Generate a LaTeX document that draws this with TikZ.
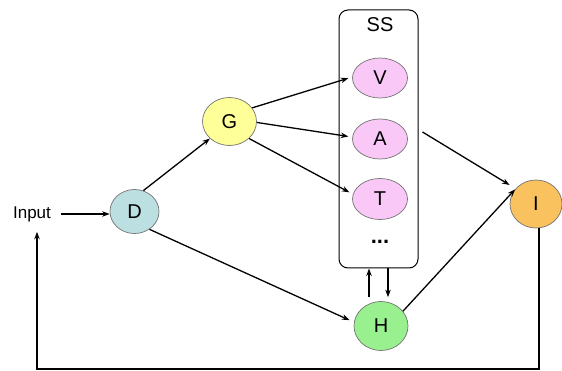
\documentclass[tikz,border=0pt]{standalone}
\usepackage{fontspec}
\setmainfont{Liberation Sans}
\usetikzlibrary{arrows.meta,shapes.geometric}
\definecolor{dblue}{HTML}{BCDFE2}
\definecolor{gyellow}{HTML}{FFFF99}
\definecolor{spink}{HTML}{F9C8F7}
\definecolor{hgreen}{HTML}{99F08F}
\definecolor{iorange}{HTML}{FAC25E}
\begin{document}
\begin{tikzpicture}[x=1pt,y=-1pt,
  blob/.style={ellipse, draw=black!55, line width=0.7pt, inner sep=0pt,
    font=\fontsize{20}{22}\selectfont},
  arr/.style={-{Stealth[length=7.5pt,width=5.5pt]}, line width=1.3pt},
  lbl/.style={font=\fontsize{20}{22}\selectfont, inner sep=0pt}]
\useasboundingbox (0,0) rectangle (562,371);

% container for the sub-systems
\node[draw, line width=1pt, rounded corners=9pt, minimum width=79pt,
  minimum height=258pt, inner sep=0pt] (ss) at (378.5,139) {};
\node[lbl] (sslabel) at (380,25) {SS};
\node[blob, fill=spink, minimum width=55pt, minimum height=40pt] (v) at (380,78) {V};
\node[blob, fill=spink, minimum width=55pt, minimum height=40pt] (a) at (380,139) {A};
\node[blob, fill=spink, minimum width=55pt, minimum height=41pt] (t) at (380,199) {T};
\node[font=\fontsize{22}{24}\selectfont\bfseries, inner sep=0pt] (dots) at (380,242) {...};

% main nodes
\node[font=\fontsize{17}{19}\selectfont, inner sep=0pt] (input) at (32,214) {Input};
\node[blob, fill=dblue, minimum width=49pt, minimum height=44pt] (d) at (134.5,211.5) {D};
\node[blob, fill=gyellow, minimum width=54pt, minimum height=48pt] (g) at (229.5,121.5) {G};
\node[blob, fill=hgreen, minimum width=54pt, minimum height=49pt] (h) at (381,326) {H};
\node[blob, fill=iorange, minimum width=52pt, minimum height=48pt] (i) at (536,204) {I};

\coordinate (aout) at (422.5,132);
\coordinate (fb) at (37,369);

% connectors
\draw[arr] ([xshift=10pt]input.east) -- (input.east -| d.west);
\draw[arr] (d.67) -- (g.221);
\draw[arr, shorten >=5pt] (d.-50) -- (h.172);
\draw[arr, shorten >=4pt] (g.31) -- (v.178);
\draw[arr, shorten >=4pt] (g.-2) -- (a.176);
\draw[arr, shorten >=4pt] (g.-41) -- (t.170);
\draw[arr, shorten >=7pt] (aout) -- (i.143);
\draw[arr, shorten >=4pt] (h.34) -- (i.136);
\draw[arr, shorten <=4pt] ([xshift=-12pt]h.north) -- ([xshift=-12pt]h.north |- ss.south);
\draw[arr, shorten >=4pt] ([xshift=7pt]h.north |- ss.south) -- ([xshift=7pt]h.north);
\draw[arr] ([xshift=3pt]i.south) |- (fb) -- ([yshift=-10pt]fb |- input.south);
\end{tikzpicture}
\end{document}
